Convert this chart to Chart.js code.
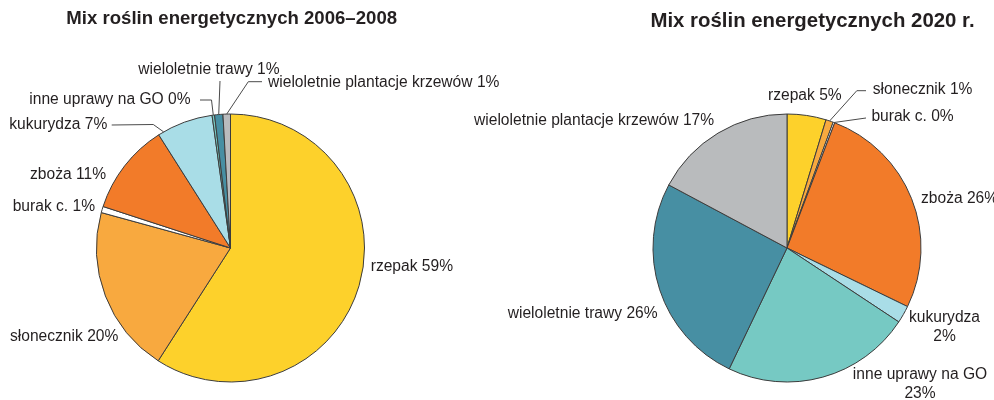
<!DOCTYPE html>
<html><head><meta charset="utf-8">
<script src="https://cdn.jsdelivr.net/npm/chart.js@4/dist/chart.umd.min.js"></script>
<style>
html,body{margin:0;padding:0;background:#fff;}
#wrap{position:relative;width:994px;height:400px;overflow:hidden;background:#fff;}
.box{position:absolute;top:0;height:400px;}
#b1{left:0;width:520px;}
#b2{left:460px;width:534px;}
</style></head><body>
<div id="wrap">
  <div class="box" id="b1"><canvas id="c1"></canvas></div>
  <div class="box" id="b2"><canvas id="c2"></canvas></div>
</div>
<script>
// ---- data ----
const categories = ['rzepak', 'słonecznik', 'burak c.', 'zboża', 'kukurydza', 'inne uprawy na GO', 'wieloletnie trawy', 'wieloletnie plantacje krzewów'];
const title1 = 'Mix roślin energetycznych 2006–2008';
const values1 = [59.1, 20.2, 0.75, 11.0, 6.8, 0.3, 1.0, 0.9];
const pctLabels1 = ['59%', '20%', '1%', '11%', '7%', '0%', '1%', '1%'];
const title2 = 'Mix roślin energetycznych 2020 r.';
const values2 = [4.7, 0.9, 0.2, 26.4, 2.1, 22.8, 25.7, 17.2];
const pctLabels2 = ['5%', '1%', '0%', '26%', '2%', '23%', '26%', '17%'];

// ---- styles / layout ----
const sliceColors = ['#FDD12B', '#F8A93F', '#FFFFFF', '#F27B29', '#A9DDE7', '#76C9C3', '#478FA3', '#B9BBBD'];
const textColor = '#231F20';
const lineColor = '#4a4a4a';
const FONT = '"Liberation Sans", Arial, sans-serif';
const labelSize = 15.6;

// label layout (page coordinates), leader = polyline start points, ends on the slice edge
const layout1 = [
  {x: 370.7, y: 266.7},
  {x: 10, y: 336.7},
  {x: 12.7, y: 206.7},
  {x: 30, y: 175},
  {x: 9.3, y: 125, leader: [[111.7, 125], [153.3, 124.5]], at: 0.1},
  {x: 29.3, y: 100, leader: [[200, 100], [211.5, 100]], at: 0.5},
  {x: 138.3, y: 69.5, leader: [[220, 81]], at: 0.5},
  {x: 268, y: 82.5, leader: [[262, 81.7], [248.3, 81.7]], at: 0.5}
];
const layout2 = [
  {x: 768, y: 95.5},
  {x: 872.8, y: 90, leader: [[866, 90.7], [856.8, 90.7]], at: 0.5},
  {x: 871.4, y: 117, leader: [[866, 118]], at: 0.5},
  {x: 921, y: 199},
  {x: 944.5, y: 318, align: 'center', wrap: true, gap: 19},
  {x: 920, y: 375, align: 'center', wrap: true, gap: 18.5},
  {x: 507.7, y: 314},
  {x: 474, y: 121}
];

const sliceLabelPlugin = {
  id: 'sliceLabels',
  afterDraw(chart, args, opts) {
    const ctx = chart.ctx;
    const meta = chart.getDatasetMeta(0);
    const ox = opts.offsetX;
    ctx.save();
    // title
    ctx.fillStyle = textColor;
    ctx.font = 'bold ' + opts.titleSize + 'px ' + FONT;
    ctx.textAlign = 'center';
    ctx.textBaseline = 'middle';
    ctx.fillText(opts.title, opts.titleX - ox, opts.titleY);
    // labels
    ctx.font = labelSize + 'px ' + FONT;
    opts.layout.forEach((L, i) => {
      const arc = meta.data[i];
      if (L.leader) {
        const p = arc.getProps(['x', 'y', 'startAngle', 'endAngle', 'outerRadius'], true);
        const a = p.startAngle + (p.endAngle - p.startAngle) * L.at;
        const ex = p.x + Math.cos(a) * p.outerRadius;
        const ey = p.y + Math.sin(a) * p.outerRadius;
        ctx.strokeStyle = lineColor;
        ctx.lineWidth = 1;
        ctx.beginPath();
        L.leader.forEach((pt, k) => {
          if (k === 0) ctx.moveTo(pt[0] - ox, pt[1]); else ctx.lineTo(pt[0] - ox, pt[1]);
        });
        ctx.lineTo(ex, ey);
        ctx.stroke();
      }
      ctx.fillStyle = textColor;
      ctx.textAlign = L.align || 'left';
      const cat = chart.data.labels[i];
      const pct = opts.pct[i];
      if (L.wrap) {
        ctx.fillText(cat, L.x - ox, L.y);
        ctx.fillText(pct, L.x - ox, L.y + L.gap);
      } else {
        ctx.fillText(cat + ' ' + pct, L.x - ox, L.y);
      }
    });
    ctx.restore();
  }
};

function makePie(id, values, pct, layout, offsetX, pad, title, titleX, titleY, titleSize) {
  return new Chart(document.getElementById(id), {
    type: 'pie',
    data: {
      labels: categories,
      datasets: [{
        data: values,
        backgroundColor: sliceColors,
        borderColor: '#3c3c3c',
        borderWidth: 1
      }]
    },
    options: {
      responsive: true,
      maintainAspectRatio: false,
      animation: false,
      devicePixelRatio: 1,
      layout: {padding: pad},
      plugins: {
        legend: {display: false},
        tooltip: {enabled: false},
        title: {display: false},
        sliceLabels: {layout, pct, offsetX, title, titleX, titleY, titleSize}
      },
      events: []
    },
    plugins: [sliceLabelPlugin]
  });
}

makePie('c1', values1, pctLabels1, layout1, 0,
  {left: 96, right: 155, top: 113.5, bottom: 17.5},
  title1, 231.7, 19, 18.6);
makePie('c2', values2, pctLabels2, layout2, 460,
  {left: 192.5, right: 72.5, top: 113.5, bottom: 17.5},
  title2, 812.5, 21, 20.4);
</script>
</body></html>
